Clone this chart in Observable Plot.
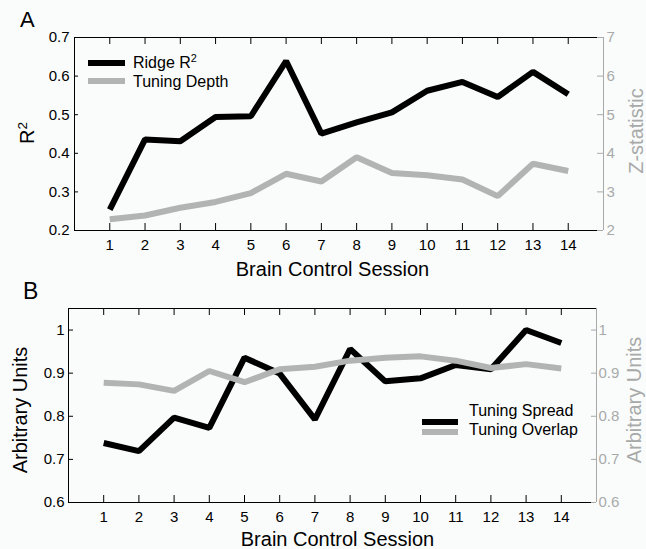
<!DOCTYPE html>
<html>
<head>
<meta charset="utf-8">
<script src="https://cdn.jsdelivr.net/npm/d3@7"></script>
<script src="https://cdn.jsdelivr.net/npm/@observablehq/plot@0.6"></script>
<style>
  html, body { margin: 0; padding: 0; background: #fafcfb; }
  #fig { position: relative; width: 646px; height: 549px; overflow: hidden; background: #fafcfb;
         font-family: "Liberation Sans", Arial, sans-serif; color: #000; }
  .abs { position: absolute; white-space: nowrap; line-height: 1; }
  .ctr { transform: translate(-50%, -50%); }
  .rot { transform: translate(-50%, -50%) rotate(-90deg); }
  .sw { position: absolute; }
  svg { position: absolute; left: 0; }
</style>
</head>
<body>
<div id="fig"></div>
<script>
// ---------- data ----------
const sessions = [1, 2, 3, 4, 5, 6, 7, 8, 9, 10, 11, 12, 13, 14];

// Panel A
const ridgeR2      = [0.254, 0.436, 0.431, 0.494, 0.496, 0.639, 0.451, 0.480, 0.506, 0.562, 0.585, 0.546, 0.611, 0.553];
const tuningDepthZ = [2.29, 2.39, 2.59, 2.74, 2.97, 3.47, 3.27, 3.90, 3.49, 3.43, 3.32, 2.89, 3.73, 3.54];
const r2Ticks = [0.2, 0.3, 0.4, 0.5, 0.6, 0.7];
const zTicks  = [2, 3, 4, 5, 6, 7];

// Panel B
const tuningSpread  = [0.738, 0.719, 0.797, 0.773, 0.936, 0.899, 0.793, 0.956, 0.881, 0.888, 0.919, 0.909, 1.000, 0.970];
const tuningOverlap = [0.878, 0.874, 0.859, 0.905, 0.879, 0.909, 0.915, 0.929, 0.936, 0.939, 0.929, 0.912, 0.921, 0.911];
const auTicks = [0.6, 0.7, 0.8, 0.9, 1];

const labels = {
  panelA: "A", panelB: "B",
  xTitle: "Brain Control Session",
  yA: "R", yA2: "Z-statistic",
  yB: "Arbitrary Units",
  legA: ["Ridge R", "Tuning Depth"],
  legB: ["Tuning Spread", "Tuning Overlap"]
};

// ---------- styling ----------
const BLACK = "#000000";
const LINEGRAY = "#b1b4b3";
const AXGRAY = "#a8aaaa";
const FONT = '"Liberation Sans", Arial, sans-serif';
const lineStyle = { strokeWidth: 6, strokeLinejoin: "miter", strokeLinecap: "butt" };

const fig = document.getElementById("fig");

// Z-statistic axis (2..7) is aligned with the R² axis (0.2..0.7)
const toR = z => 0.2 + (z - 2) / 10;
const fromR = r => (r - 0.2) * 10 + 2;

const rowsA = sessions.map((s, i) => ({ session: s, r2: ridgeR2[i], z: tuningDepthZ[i] }));
const rowsB = sessions.map((s, i) => ({ session: s, spread: tuningSpread[i], overlap: tuningOverlap[i] }));

const commonStyle = { background: "transparent", fontFamily: FONT, fontSize: "15px", color: "#000" };

// ---------- Panel A ----------
const plotA = Plot.plot({
  width: 646, height: 270,
  marginLeft: 74, marginRight: 43, marginTop: 37, marginBottom: 40,
  x: { domain: [0, 15] },
  y: { domain: [0.2, 0.7] },
  style: commonStyle,
  marks: [
    Plot.ruleY([0.2, 0.7], { stroke: BLACK }),
    Plot.ruleX([0], { stroke: BLACK }),
    Plot.ruleX([15], { stroke: AXGRAY }),
    Plot.ruleX(sessions, { x: d => d, y1: 0.2, y2: 0.2, insetBottom: 7, stroke: BLACK }),
    Plot.ruleX(sessions, { x: d => d, y1: 0.7, y2: 0.7, insetTop: 7, stroke: BLACK }),
    Plot.ruleY(r2Ticks, { y: d => d, x1: 0, x2: 0, insetRight: -4, stroke: BLACK }),
    Plot.ruleY(zTicks.map(toR), { y: d => d, x1: 15, x2: 15, insetLeft: -6, stroke: AXGRAY }),
    Plot.axisX(sessions, { anchor: "bottom", tickSize: 0, tickPadding: 9, label: null }),
    Plot.axisY(r2Ticks, { anchor: "left", tickSize: 0, tickPadding: 5, tickFormat: d => d.toFixed(1), label: null }),
    Plot.axisY(zTicks.map(toR), { anchor: "right", tickSize: 0, tickPadding: 3, color: AXGRAY,
      tickFormat: d => String(Math.round(fromR(d))), label: null }),
    Plot.line(rowsA, { x: "session", y: d => toR(d.z), stroke: LINEGRAY, ...lineStyle }),
    Plot.line(rowsA, { x: "session", y: "r2", stroke: BLACK, ...lineStyle })
  ]
});
plotA.style.top = "0px";
fig.appendChild(plotA);

// ---------- Panel B ----------
const plotB = Plot.plot({
  width: 646, height: 279,
  marginLeft: 68, marginRight: 50, marginTop: 38, marginBottom: 47,
  x: { domain: [0, 15] },
  y: { domain: [0.6, 1.05] },
  style: commonStyle,
  marks: [
    Plot.ruleY([0.6, 1.05], { stroke: BLACK }),
    Plot.ruleX([0], { stroke: BLACK }),
    Plot.ruleX([15], { stroke: AXGRAY }),
    Plot.ruleX(sessions, { x: d => d, y1: 0.6, y2: 0.6, insetBottom: 7, stroke: BLACK }),
    Plot.ruleX(sessions, { x: d => d, y1: 1.05, y2: 1.05, insetTop: 7, stroke: BLACK }),
    Plot.ruleY(auTicks, { y: d => d, x1: 0, x2: 0, insetRight: -5, stroke: BLACK }),
    Plot.ruleY(auTicks, { y: d => d, x1: 15, x2: 15, insetLeft: -5, stroke: AXGRAY }),
    Plot.axisX(sessions, { anchor: "bottom", tickSize: 0, tickPadding: 9, label: null }),
    Plot.axisY(auTicks, { anchor: "left", tickSize: 0, tickPadding: 4, tickFormat: d => (d === 1 ? "1" : d.toFixed(1)), label: null }),
    Plot.axisY(auTicks, { anchor: "right", tickSize: 0, tickPadding: 2, color: AXGRAY,
      tickFormat: d => (d === 1 ? "1" : d.toFixed(1)), label: null }),
    Plot.line(rowsB, { x: "session", y: "spread", stroke: BLACK, ...lineStyle }),
    Plot.line(rowsB, { x: "session", y: "overlap", stroke: LINEGRAY, ...lineStyle })
  ]
});
plotB.style.top = "270px";
fig.appendChild(plotB);

// ---------- text and legends ----------
function addText(html, x, y, size, cls, color) {
  const el = document.createElement("div");
  el.className = "abs " + (cls || "");
  el.style.left = x + "px";
  el.style.top = y + "px";
  el.style.fontSize = size + "px";
  if (color) el.style.color = color;
  el.innerHTML = html;
  fig.appendChild(el);
  return el;
}
function addSwatch(x, y, w, h, color) {
  const el = document.createElement("div");
  el.className = "sw";
  el.style.left = x + "px"; el.style.top = y + "px";
  el.style.width = w + "px"; el.style.height = h + "px";
  el.style.background = color;
  fig.appendChild(el);
}
const sup = '<span style="font-size:0.68em;position:relative;top:-0.55em">2</span>';

// panel letters
addText(labels.panelA, 20, 9, 22);
addText(labels.panelB, 23, 280, 23);

// x titles
addText(labels.xTitle, 332.5, 269, 20, "ctr");
addText(labels.xTitle, 337.5, 539, 20, "ctr");

// y titles
addText(labels.yA + sup, 27, 133, 20, "rot");
addText(labels.yA2, 636, 131, 20, "rot", AXGRAY);
addText(labels.yB, 20, 410, 20, "rot");
addText(labels.yB, 634, 400, 20, "rot", AXGRAY);

// legend A
addSwatch(88, 60, 37, 6, BLACK);
addSwatch(88, 78, 37, 6, LINEGRAY);
addText(labels.legA[0] + sup, 133, 62.5, 16, "").style.transform = "translateY(-50%)";
addText(labels.legA[1], 133, 81.5, 16, "").style.transform = "translateY(-50%)";

// legend B
addSwatch(422, 419, 36, 6, BLACK);
addSwatch(422, 429, 36, 6, LINEGRAY);
addText(labels.legB[0], 469, 410.5, 16, "").style.transform = "translateY(-50%)";
addText(labels.legB[1], 469, 429.5, 16, "").style.transform = "translateY(-50%)";
</script>
</body>
</html>
